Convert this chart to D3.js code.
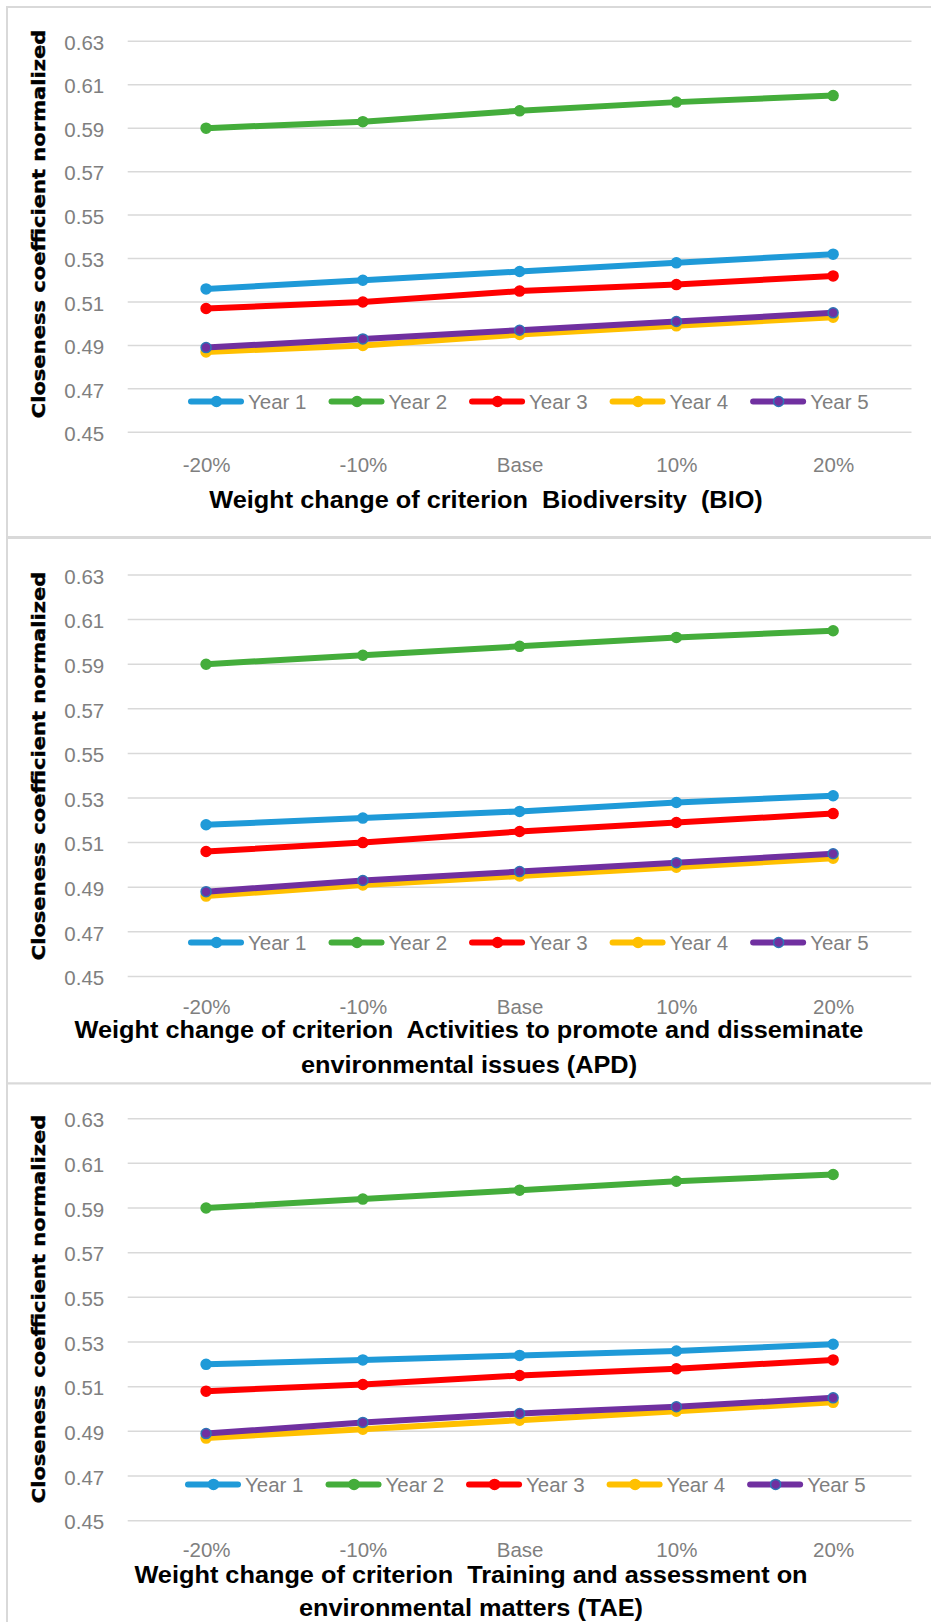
<!DOCTYPE html>
<html>
<head>
<meta charset="utf-8">
<script src="https://cdn.jsdelivr.net/npm/d3@7"></script>
<style>
  body { margin: 0; background: #fff; }
  svg { display: block; }
</style>
</head>
<body>
<svg id="chart"></svg>
<script>
// categories and legend
const categories = ['-20%', '-10%', 'Base', '10%', '20%'];
const years = ['Year 1', 'Year 2', 'Year 3', 'Year 4', 'Year 5'];
const yTicks = [0.45, 0.47, 0.49, 0.51, 0.53, 0.55, 0.57, 0.59, 0.61, 0.63];

// values, one row per year
const bioValues = [
  [0.516, 0.520, 0.524, 0.528, 0.532],
  [0.590, 0.593, 0.598, 0.602, 0.605],
  [0.507, 0.510, 0.515, 0.518, 0.522],
  [0.487, 0.490, 0.495, 0.499, 0.503],
  [0.489, 0.493, 0.497, 0.501, 0.505]
];
const apdValues = [
  [0.518, 0.521, 0.524, 0.528, 0.531],
  [0.590, 0.594, 0.598, 0.602, 0.605],
  [0.506, 0.510, 0.515, 0.519, 0.523],
  [0.486, 0.491, 0.495, 0.499, 0.503],
  [0.488, 0.493, 0.497, 0.501, 0.505]
];
const taeValues = [
  [0.520, 0.522, 0.524, 0.526, 0.529],
  [0.590, 0.594, 0.598, 0.602, 0.605],
  [0.508, 0.511, 0.515, 0.518, 0.522],
  [0.487, 0.491, 0.495, 0.499, 0.503],
  [0.489, 0.494, 0.498, 0.501, 0.505]
];

const bioTitle = ['Weight change of criterion  Biodiversity  (BIO)'];
const apdTitle = ['Weight change of criterion  Activities to promote and disseminate',
  'environmental issues (APD)'];
const taeTitle = ['Weight change of criterion  Training and assessment on',
  'environmental matters (TAE)'];

const colours = ['#1f9ad8', '#44ad3b', '#ff0000', '#ffc000', '#7030a0'];
const markerStroke = ['#1f9ad8', '#44ad3b', '#ff0000', '#ffc000', '#2e75b6'];

const width = 931;
const height = 1622;
const plotLeft = 127.7;
const plotRight = 911.5;

// per-panel layout, top to bottom (tickY and titleY are baselines)
const panels = [
  { values: bioValues, title: bioTitle, top: 7, bottom: 537,
    plotTop: 41.3, plotBottom: 432.3, legendY: 401.5, tickY: 471.7,
    titleX: 486, titleY: [508.3], yTitleY: 224, legendX: 188 },
  { values: apdValues, title: apdTitle, top: 538, bottom: 1083.5,
    plotTop: 575, plotBottom: 976.4, legendY: 942.5, tickY: 1014,
    titleX: 469, titleY: [1037.5, 1072.7], yTitleY: 766, legendX: 188 },
  { values: taeValues, title: taeTitle, top: 1083.5, bottom: 1640,
    plotTop: 1118.7, plotBottom: 1520.7, legendY: 1484.4, tickY: 1557,
    titleX: 471, titleY: [1583, 1616], yTitleY: 1309, legendX: 185 }
];

const svg = d3.select('#chart')
  .attr('width', width)
  .attr('height', height)
  .attr('viewBox', `0 0 ${width} ${height}`);

const x = d3.scalePoint()
  .domain(categories)
  .range([plotLeft, plotRight])
  .padding(0.5);

const labelFont = '"Liberation Sans", Arial, sans-serif';

function drawPanel(p) {
  const g = svg.append('g');

  // panel frame
  g.append('rect')
    .attr('x', 7)
    .attr('y', p.top)
    .attr('width', width + 10)
    .attr('height', p.bottom - p.top)
    .attr('fill', '#fff')
    .attr('stroke', '#d9d9d9')
    .attr('stroke-width', 2);

  const y = d3.scaleLinear()
    .domain([0.45, 0.63])
    .range([p.plotBottom, p.plotTop]);

  // gridlines
  g.append('g')
    .attr('class', 'grid')
    .selectAll('line')
    .data(yTicks)
    .enter()
    .append('line')
    .attr('x1', plotLeft)
    .attr('x2', plotRight)
    .attr('y1', d => y(d))
    .attr('y2', d => y(d))
    .attr('stroke', '#d9d9d9')
    .attr('stroke-width', 1.5);

  // y axis labels
  const yAxis = g.append('g')
    .attr('transform', `translate(${plotLeft},0)`)
    .call(d3.axisLeft(y).tickValues(yTicks).tickFormat(d3.format('.2f')).tickSize(0));
  yAxis.select('.domain').remove();
  yAxis.selectAll('text')
    .attr('x', -23.5)
    .attr('dy', '0.4em')
    .attr('fill', '#7f7f7f')
    .style('font-family', labelFont)
    .style('font-size', '20.5px');

  // x axis labels
  const xAxis = g.append('g')
    .attr('transform', `translate(0,${p.plotBottom})`)
    .call(d3.axisBottom(x).tickSize(0));
  xAxis.select('.domain').remove();
  xAxis.selectAll('text')
    .attr('y', p.tickY - p.plotBottom)
    .attr('dy', 0)
    .attr('fill', '#7f7f7f')
    .style('font-family', labelFont)
    .style('font-size', '20.5px');

  // series lines and markers
  const line = d3.line()
    .x((d, i) => x(categories[i]))
    .y(d => y(d));

  p.values.forEach((vals, k) => {
    g.append('path')
      .datum(vals)
      .attr('d', line)
      .attr('fill', 'none')
      .attr('stroke', colours[k])
      .attr('stroke-width', 6)
      .attr('stroke-linejoin', 'round')
      .attr('stroke-linecap', 'round');
    g.append('g')
      .selectAll('circle')
      .data(vals)
      .enter()
      .append('circle')
      .attr('cx', (d, i) => x(categories[i]))
      .attr('cy', d => y(d))
      .attr('r', 5)
      .attr('fill', colours[k])
      .attr('stroke', markerStroke[k])
      .attr('stroke-width', 1.5);
  });

  // legend
  const legend = g.append('g').attr('transform', `translate(0,${p.legendY})`);
  let cursor = p.legendX;
  years.forEach((name, k) => {
    const item = legend.append('g').attr('transform', `translate(${cursor},0)`);
    item.append('line')
      .attr('x1', 3).attr('x2', 53)
      .attr('stroke', colours[k])
      .attr('stroke-width', 6)
      .attr('stroke-linecap', 'round');
    item.append('circle')
      .attr('cx', 28.5).attr('r', 5)
      .attr('fill', colours[k])
      .attr('stroke', markerStroke[k])
      .attr('stroke-width', 1.5);
    const t = item.append('text')
      .attr('x', 60)
      .attr('dy', '0.36em')
      .attr('fill', '#7f7f7f')
      .style('font-family', labelFont)
      .style('font-size', '20.5px')
      .text(name);
    cursor += 60 + t.node().getComputedTextLength() + 22;
  });

  // y axis title
  g.append('text')
    .attr('transform', `translate(45,${p.yTitleY}) rotate(-90) scale(1.17,1)`)
    .attr('text-anchor', 'middle')
    .attr('fill', '#000')
    .attr('stroke', '#000')
    .attr('stroke-width', 0.4)
    .style('font-family', '"DejaVu Sans", Verdana, sans-serif')
    .style('font-weight', 'bold')
    .style('font-size', '18px')
    .text('Closeness coefficient normalized');

  // x axis title
  p.title.forEach((txt, i) => {
    g.append('text')
      .attr('transform', `translate(${p.titleX},${p.titleY[i]}) scale(1.055,1)`)
      .attr('text-anchor', 'middle')
      .attr('fill', '#000')
      .style('font-family', labelFont)
      .style('font-weight', 'bold')
      .style('font-size', '24px')
      .style('white-space', 'pre')
      .text(txt);
  });
}

panels.forEach(drawPanel);
</script>
</body>
</html>
